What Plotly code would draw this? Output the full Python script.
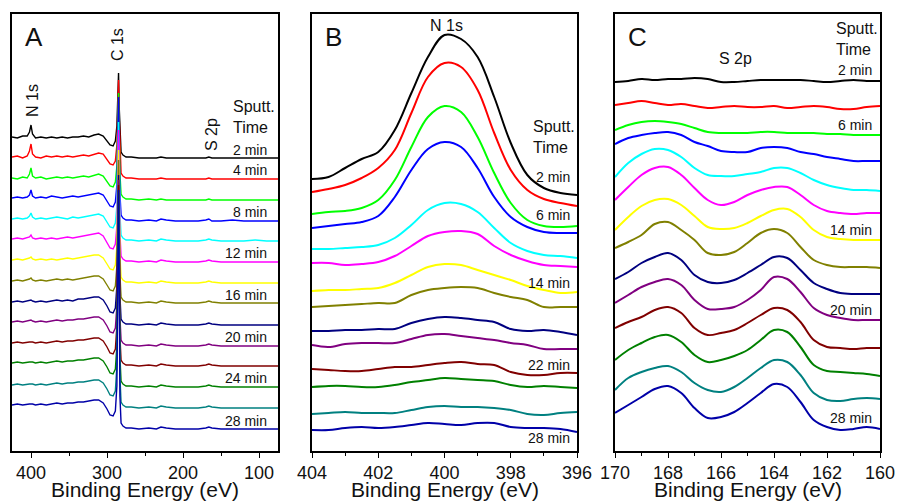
import plotly.graph_objects as go

# ---------------- data (intensities in arbitrary, stacked units) ----------------
sputter_times = [2, 4, 6, 8, 10, 12, 14, 16, 18, 20, 22, 24, 26, 28]
colors = ["#000000", "#FF0000", "#00FF00", "#0000FF", "#00FFFF", "#FF00FF", "#FFFF00",
          "#808000", "#000080", "#800080", "#800000", "#008000", "#008080", "#0000A8"]
axis_title = "Binding Energy (eV)"

# Panel A: survey spectra
energy_a = [425, 418, 411, 405, 402, 400, 398, 394, 387, 380, 373, 366, 359, 352, 345, 338, 331,
            324, 317, 311, 305, 300, 296, 292, 289, 287, 285.6, 284.8, 284, 283, 281.5, 279, 275,
            268, 258, 245, 235, 229, 222, 210, 195, 180, 170, 166, 162, 150, 135, 120, 105, 90, 75]
a_02 = [314, 313, 315, 315, 319, 326, 317, 313, 314, 313, 314, 313, 314, 313, 314, 314, 315, 314, 316, 317, 315, 310, 306, 305, 310, 325, 350, 378, 345, 318, 299, 296, 294, 294, 293, 293, 293, 294, 293, 293, 293, 293, 293, 294, 293, 293, 293, 293, 293, 293, 293]
a_04 = [294, 295, 293, 295, 300, 307, 297, 294, 293, 295, 294, 295, 294, 295, 294, 295, 296, 295, 297, 298, 297, 292, 287, 286, 290, 306, 340, 371, 335, 298, 278, 275, 273, 273, 272, 272, 272, 273, 272, 272, 272, 272, 272, 273, 272, 272, 272, 272, 272, 272, 272]
a_06 = [273, 272, 274, 273, 277, 283, 275, 273, 274, 272, 273, 274, 273, 274, 273, 274, 275, 274, 276, 277, 275, 270, 265, 264, 269, 285, 325, 358, 320, 278, 257, 254, 252, 252, 251, 252, 251, 252, 251, 251, 251, 251, 251, 252, 251, 251, 251, 251, 251, 251, 251]
a_08 = [253, 254, 253, 254, 256, 261, 255, 253, 254, 253, 255, 254, 253, 254, 255, 254, 255, 256, 257, 258, 256, 250, 245, 244, 249, 266, 315, 354, 310, 258, 236, 233, 231, 231, 230, 231, 230, 232, 231, 230, 230, 230, 231, 232, 230, 230, 231, 230, 230, 230, 230]
a_10 = [232, 233, 232, 233, 235, 238, 234, 232, 233, 232, 233, 234, 233, 232, 234, 233, 234, 235, 236, 237, 235, 229, 224, 223, 228, 245, 295, 329, 290, 238, 216, 213, 211, 211, 210, 211, 210, 212, 211, 210, 210, 210, 211, 212, 211, 210, 210, 210, 211, 210, 210]
a_12 = [212, 213, 212, 213, 214, 216, 213, 212, 213, 212, 213, 212, 213, 214, 213, 214, 215, 216, 217, 218, 215, 209, 203, 202, 207, 225, 285, 321, 280, 218, 195, 192, 190, 190, 189, 190, 189, 191, 190, 189, 189, 189, 190, 191, 190, 189, 189, 189, 189, 189, 189]
a_14 = [191, 192, 191, 192, 193, 194, 192, 191, 192, 191, 192, 191, 192, 193, 192, 193, 194, 195, 196, 196, 193, 187, 182, 181, 186, 205, 265, 301, 260, 197, 174, 171, 169, 169, 168, 169, 168, 170, 169, 168, 168, 168, 169, 170, 169, 168, 168, 168, 168, 168, 168]
a_16 = [170, 171, 170, 171, 172, 173, 171, 170, 171, 170, 171, 172, 171, 172, 171, 172, 173, 174, 175, 175, 172, 166, 161, 160, 165, 185, 250, 291, 245, 177, 154, 151, 149, 149, 148, 149, 148, 150, 149, 148, 148, 148, 149, 150, 149, 148, 148, 148, 148, 148, 148]
a_18 = [149, 150, 149, 150, 150, 151, 150, 149, 150, 149, 150, 151, 150, 151, 150, 152, 152, 153, 154, 154, 151, 145, 139, 138, 143, 165, 235, 276, 230, 156, 132, 129, 127, 127, 126, 127, 126, 128, 127, 126, 126, 126, 127, 128, 127, 126, 126, 126, 126, 126, 126]
a_20 = [129, 130, 129, 130, 130, 131, 130, 129, 130, 129, 130, 131, 130, 131, 131, 132, 132, 133, 134, 134, 131, 125, 119, 118, 123, 145, 225, 271, 220, 135, 111, 108, 106, 106, 105, 106, 105, 107, 106, 105, 105, 105, 106, 107, 106, 105, 105, 105, 105, 105, 105]
a_22 = [108, 109, 108, 109, 109, 109, 109, 108, 109, 108, 109, 110, 109, 110, 110, 111, 111, 112, 113, 113, 110, 104, 98, 97, 102, 125, 215, 266, 210, 115, 91, 88, 86, 86, 85, 86, 85, 87, 86, 85, 85, 85, 86, 87, 86, 85, 85, 85, 85, 85, 85]
a_24 = [88, 89, 88, 89, 89, 89, 89, 88, 89, 88, 89, 90, 89, 90, 90, 91, 91, 92, 93, 93, 90, 84, 78, 77, 82, 105, 205, 261, 200, 95, 70, 67, 65, 65, 64, 65, 64, 66, 65, 64, 64, 64, 65, 66, 65, 64, 64, 64, 64, 64, 64]
a_26 = [66, 67, 66, 67, 67, 67, 67, 66, 67, 66, 67, 68, 67, 68, 68, 69, 69, 70, 71, 71, 68, 62, 56, 55, 60, 85, 195, 259, 190, 75, 49, 46, 44, 44, 43, 44, 43, 45, 44, 43, 43, 43, 44, 45, 44, 43, 43, 43, 43, 43, 43]
a_28 = [46, 47, 46, 47, 47, 47, 47, 46, 47, 46, 47, 48, 47, 48, 48, 49, 49, 50, 51, 51, 48, 42, 36, 35, 40, 65, 185, 261, 180, 55, 28, 25, 23, 23, 22, 23, 22, 24, 23, 22, 22, 22, 23, 24, 23, 22, 22, 22, 22, 22, 22]

# Panel B: N 1s region
energy_b = [404, 403.5, 403, 402.5, 402, 401.5, 401, 400.5, 400, 399.5, 399, 398.5, 398, 397.5, 397, 396.5, 396]
b_02 = [272, 274, 283, 292, 299, 321, 358, 394, 416, 412, 394, 354, 308, 276, 263, 258, 256]
b_04 = [259, 262, 266, 273, 283, 301, 338, 374, 388, 384, 361, 318, 281, 261, 252, 248, 245]
b_06 = [237, 239, 240, 243, 251, 271, 304, 334, 345, 339, 314, 278, 248, 231, 225, 224, 225]
b_08 = [223, 225, 227, 229, 235, 254, 281, 302, 309, 304, 283, 254, 234, 224, 219, 218, 218]
b_10 = [202, 202, 203, 204, 206, 213, 226, 241, 248, 247, 239, 223, 208, 200, 196, 195, 193]
b_12 = [188, 188, 186, 187, 189, 195, 205, 215, 219, 220, 217, 205, 196, 190, 186, 185, 184]
b_14 = [160, 161, 161, 162, 163, 168, 176, 184, 187, 186, 181, 176, 171, 165, 161, 158, 159]
b_16 = [144, 145, 146, 147, 148, 148, 156, 161, 163, 164, 163, 158, 154, 151, 144, 144, 144]
b_18 = [120, 120, 121, 121, 122, 122, 128, 132, 134, 133, 131, 129, 122, 120, 121, 119, 116]
b_20 = [106, 104, 107, 108, 108, 108, 112, 116, 117, 115, 113, 111, 108, 106, 102, 102, 102]
b_22 = [82, 81, 80, 80, 82, 84, 84, 86, 88, 89, 87, 86, 79, 76, 76, 78, 78]
b_24 = [64, 65, 65, 64, 64, 66, 69, 71, 73, 72, 71, 70, 66, 64, 65, 64, 63]
b_26 = [37, 38, 39, 38, 38, 38, 41, 44, 45, 44, 44, 43, 41, 37, 36, 38, 39]
b_28 = [21, 21, 23, 24, 23, 24, 26, 28, 27, 26, 28, 28, 24, 23, 23, 22, 19]

# Panel C: S 2p region
energy_c = [170, 169.5, 169, 168.5, 168, 167.5, 167, 166.5, 166, 165.5, 165, 164.5, 164, 163.5, 163,
            162.5, 162, 161.5, 161, 160.5, 160]
c_02 = [369, 370, 372, 371, 372, 372, 373, 372, 369, 369, 370, 371, 371, 371, 371, 370, 369, 370, 371, 370, 370]
c_04 = [346, 348, 350, 348, 346, 347, 345, 343, 344, 345, 344, 344, 345, 343, 344, 345, 344, 342, 342, 344, 345]
c_06 = [321, 326, 329, 330, 329, 327, 323, 319, 318, 318, 318, 319, 319, 318, 318, 318, 317, 317, 316, 316, 316]
c_08 = [307, 313, 316, 318, 319, 316, 309, 305, 300, 299, 299, 303, 304, 303, 299, 297, 294, 292, 290, 290, 290]
c_10 = [274, 288, 297, 302, 301, 294, 283, 276, 275, 275, 277, 279, 283, 283, 278, 271, 266, 263, 261, 261, 260]
c_12 = [251, 264, 276, 283, 284, 276, 263, 251, 246, 249, 256, 261, 264, 264, 256, 246, 240, 238, 237, 238, 238]
c_14 = [221, 234, 245, 251, 252, 246, 235, 224, 222, 223, 228, 235, 241, 242, 234, 221, 214, 212, 211, 211, 211]
c_16 = [203, 209, 216, 227, 229, 221, 211, 198, 196, 199, 208, 218, 222, 218, 204, 191, 186, 184, 184, 184, 183]
c_18 = [172, 179, 188, 194, 198, 191, 176, 169, 168, 171, 178, 186, 194, 193, 181, 168, 162, 158, 157, 157, 157]
c_20 = [148, 156, 164, 169, 172, 166, 151, 142, 142, 144, 151, 161, 174, 172, 159, 143, 136, 133, 131, 131, 131]
c_22 = [123, 129, 134, 141, 144, 138, 123, 116, 118, 121, 128, 136, 143, 141, 129, 111, 104, 103, 102, 103, 103]
c_24 = [91, 101, 108, 114, 116, 109, 96, 89, 91, 95, 101, 111, 121, 119, 104, 86, 80, 79, 78, 77, 75]
c_26 = [61, 73, 79, 83, 85, 79, 68, 61, 59, 64, 73, 83, 91, 89, 76, 58, 51, 50, 52, 53, 52]
c_28 = [38, 46, 54, 62, 65, 58, 43, 33, 34, 39, 48, 58, 67, 64, 49, 31, 24, 21, 22, 24, 22]

series_a = [a_02, a_04, a_06, a_08, a_10, a_12, a_14, a_16, a_18, a_20, a_22, a_24, a_26, a_28]
series_b = [b_02, b_04, b_06, b_08, b_10, b_12, b_14, b_16, b_18, b_20, b_22, b_24, b_26, b_28]
series_c = [c_02, c_04, c_06, c_08, c_10, c_12, c_14, c_16, c_18, c_20, c_22, c_24, c_26, c_28]

# labelled traces per panel: (sputter time, label height)
labels_a = [(2, 301), (4, 281), (8, 239), (12, 198), (16, 156), (20, 114), (24, 73), (28, 30)]
labels_b = [(2, 274), (6, 236), (14, 168), (22, 86), (28, 13)]
labels_c = [(2, 381), (6, 326), (14, 221), (20, 141), (28, 33)]

# ---------------- figure ----------------
FONT = "Liberation Sans, Arial, sans-serif"
W, H = 899, 503
fig = go.Figure()

panels = [
    ("x", "y", energy_a, series_a, 1.4, [425, 75], 100, 50),
    ("x2", "y2", energy_b, series_b, 2.0, [404, 396], 2, 1),
    ("x3", "y3", energy_c, series_c, 2.0, [170, 160], 2, 1),
]
for xa, ya, en, series, lw, rng, dt, mdt in panels:
    for t, ys, col in zip(sputter_times, series, colors):
        fig.add_trace(go.Scatter(
            x=en, y=ys, xaxis=xa, yaxis=ya, mode="lines", name=f"{t} min",
            line=dict(color=col, width=lw, shape="linear" if xa == "x" else "spline", smoothing=1.0),
            showlegend=False, hoverinfo="skip"))

doms = [(12 / W, 278 / W), (312 / W, 577 / W), (615 / W, 880 / W)]
ydom = [(H - 451) / H, (H - 14) / H]
axcommon = dict(showline=True, linewidth=1.7, linecolor="#000", mirror=True, showgrid=False,
                zeroline=False, automargin=False)
for i, (xa, ya, en, series, lw, rng, dt, mdt) in enumerate(panels):
    sfx = "" if i == 0 else str(i + 1)
    fig.update_layout(**{
        f"xaxis{sfx}": dict(domain=list(doms[i]), range=rng, anchor=ya, dtick=dt, tick0=0,
                            ticks="outside", ticklen=5, tickwidth=1.4, tickcolor="#000",
                            minor=dict(ticks="outside", ticklen=3, dtick=mdt, tick0=0,
                                       tickcolor="#000", tickwidth=1.2),
                            tickfont=dict(family=FONT, size=18, color="#111"),
                            **axcommon),
        f"yaxis{sfx}": dict(domain=ydom, range=[0, 437], anchor=xa, showticklabels=False,
                            ticks="", **axcommon),
    })

ann = []
def text(xref, yref, x, y, s, size, xanchor="center", yanchor="middle", angle=0, align="center"):
    ann.append(dict(xref=xref, yref=yref, x=x, y=y, text=s, showarrow=False, textangle=angle,
                    xanchor=xanchor, yanchor=yanchor, align=align,
                    font=dict(family=FONT, size=size, color="#111")))

# panel letters and axis titles
for i, letter in enumerate(["A", "B", "C"]):
    text("paper", "paper", doms[i][0] + 11 / W, (H - 37) / H, letter, 26, xanchor="left")
    text("paper", "paper", (doms[i][0] + doms[i][1]) / 2, (H - 489) / H, axis_title, 21)

# Panel A labels
text("x", "y", 286.8, 451 - 45, "C 1s", 16, angle=-90)
text("x", "y", 398.7, 451 - 100, "N 1s", 16, angle=-90)
text("x", "y", 163, 451 - 135, "S 2p", 16, angle=-90)
text("x", "y", 137, 451 - 117, "Sputt.<br>Time", 16, xanchor="left", align="left")
for t, yv in labels_a:
    text("x", "y", 86.8, yv, f"{t} min", 14, xanchor="right")

# Panel B labels
text("x2", "y2", 399.95, 451 - 25, "N 1s", 16)
text("x2", "y2", 397.38, 451 - 137, "Sputt.<br>Time", 16, xanchor="left", align="left")
for t, yv in labels_b:
    text("x2", "y2", 396.15, yv, f"{t} min", 14, xanchor="right")

# Panel C labels
text("x3", "y3", 165.47, 451 - 58, "S 2p", 16)
text("x3", "y3", 161.74, 451 - 39, "Sputt.<br>Time", 16, xanchor="left", align="left")
for t, yv in labels_c:
    text("x3", "y3", 160.23, yv, f"{t} min", 14, xanchor="right")

fig.update_layout(width=W, height=H, margin=dict(l=0, r=0, t=0, b=0),
                  paper_bgcolor="white", plot_bgcolor="white", annotations=ann,
                  font=dict(family=FONT, color="#111"))
fig.write_html("out.html", config={"displayModeBar": False},
               post_script="document.body.style.margin='0px';document.body.style.overflow='hidden';")
